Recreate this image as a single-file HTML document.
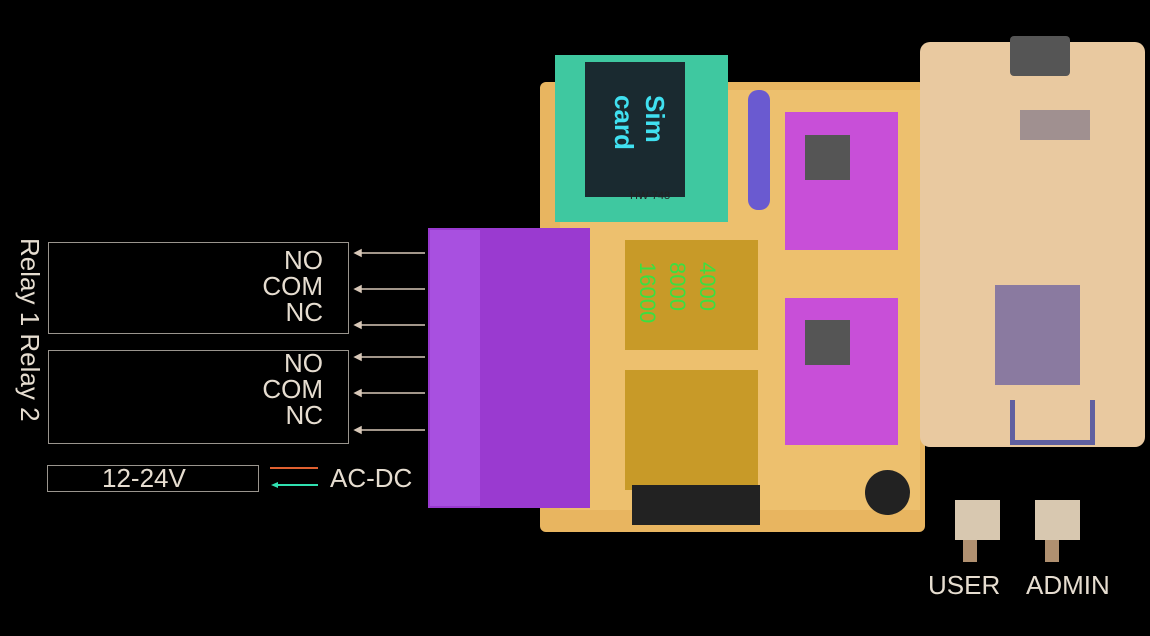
<!DOCTYPE html>
<html><head><style>
body{margin:0;width:1150px;height:636px;background:#000;position:relative;overflow:hidden;font-family:"Liberation Sans",sans-serif}
.a{position:absolute}
.t{position:absolute;color:#e6ddd0;font-size:26px;line-height:26px}
</style></head><body>
<!-- main board -->
<div class="a" style="left:540px;top:82px;width:385px;height:450px;background:#e8b560;border-radius:6px"></div>
<div class="a" style="left:560px;top:90px;width:360px;height:420px;background:#f0c878;opacity:.6"></div>
<!-- esp board -->
<div class="a" style="left:920px;top:42px;width:225px;height:405px;background:#e9c9a0;border-radius:10px"></div>
<div class="a" style="left:1010px;top:36px;width:60px;height:40px;background:#555;border-radius:4px"></div>
<div class="a" style="left:995px;top:285px;width:85px;height:100px;background:#8a7aa0"></div>
<div class="a" style="left:1010px;top:400px;width:75px;height:40px;border:5px solid #6060a0;border-top:none"></div>
<div class="a" style="left:1020px;top:110px;width:70px;height:30px;background:#a09090"></div>
<!-- sim module -->
<div class="a" style="left:555px;top:55px;width:173px;height:167px;background:#3fc8a0"></div>
<div class="a" style="left:585px;top:62px;width:100px;height:135px;background:#1a2a30"></div>
<div class="a" style="color:#40e0f0;font-size:26px;font-weight:bold;transform:rotate(90deg);transform-origin:left top;left:670px;top:95px;white-space:nowrap">Sim<br>card</div>
<div class="a" style="left:630px;top:190px;font-size:11px;color:#222">HW-748</div>
<!-- antenna -->
<div class="a" style="left:748px;top:90px;width:22px;height:120px;background:#6a5ad0;border-radius:10px"></div>
<!-- purple modules -->
<div class="a" style="left:785px;top:112px;width:113px;height:138px;background:#c84fd8"></div>
<div class="a" style="left:805px;top:135px;width:45px;height:45px;background:#555"></div>
<div class="a" style="left:785px;top:298px;width:113px;height:147px;background:#c84fd8"></div>
<div class="a" style="left:805px;top:320px;width:45px;height:45px;background:#555"></div>
<!-- relays -->
<div class="a" style="left:625px;top:240px;width:133px;height:110px;background:#c89a28"></div>
<div class="a" style="color:#3ae040;font-size:22px;transform:rotate(90deg);transform-origin:left top;left:722px;top:262px;line-height:30px">4000<br>8000<br>16000</div>
<div class="a" style="left:625px;top:370px;width:133px;height:120px;background:#c89a28"></div>
<div class="a" style="left:632px;top:485px;width:128px;height:40px;background:#222"></div>
<div class="a" style="left:865px;top:470px;width:45px;height:45px;background:#222;border-radius:50%"></div>
<!-- buttons -->
<div class="a" style="left:955px;top:500px;width:45px;height:40px;background:#d8c8b0"></div>
<div class="a" style="left:1035px;top:500px;width:45px;height:40px;background:#d8c8b0"></div>
<div class="a" style="left:963px;top:540px;width:14px;height:22px;background:#b09070"></div>
<div class="a" style="left:1045px;top:540px;width:14px;height:22px;background:#b09070"></div>
<!-- terminal -->
<div class="a" style="left:428px;top:228px;width:162px;height:280px;background:#9a3ad0"></div>
<div class="a" style="left:430px;top:230px;width:50px;height:276px;background:#a850e0"></div>
<!-- left boxes -->
<div class="a" style="left:48px;top:242px;width:299px;height:90px;border:1px solid #9a958e"></div>
<div class="a" style="left:48px;top:350px;width:299px;height:92px;border:1px solid #9a958e"></div>
<div class="a" style="left:47px;top:465px;width:210px;height:25px;border:1px solid #9a958e"></div>
<div class="t" style="left:102px;top:465px">12-24V</div>
<div class="t" style="right:827px;top:247px;text-align:right">NO<br>COM<br>NC</div>
<div class="t" style="right:827px;top:350px;text-align:right">NO<br>COM<br>NC</div>
<div class="t" style="top:238px;transform:rotate(90deg) translateY(-100%);transform-origin:left top;left:17px;white-space:nowrap">Relay 1 Relay 2</div>
<div class="t" style="left:330px;top:465px">AC-DC</div>
<div class="t" style="left:928px;top:572px">USER</div>
<div class="t" style="left:1026px;top:572px">ADMIN</div>
<svg class="a" style="left:0;top:0" width="1150" height="636">
<g stroke="#d8c8b8" stroke-width="1.5" fill="#d8c8b8">
<line x1="425" y1="253" x2="358" y2="253"/><path d="M355 253l6-3v6z"/>
<line x1="425" y1="289" x2="358" y2="289"/><path d="M355 289l6-3v6z"/>
<line x1="425" y1="325" x2="358" y2="325"/><path d="M355 325l6-3v6z"/>
<line x1="425" y1="357" x2="358" y2="357"/><path d="M355 357l6-3v6z"/>
<line x1="425" y1="393" x2="358" y2="393"/><path d="M355 393l6-3v6z"/>
<line x1="425" y1="430" x2="358" y2="430"/><path d="M355 430l6-3v6z"/>
</g>
<line x1="270" y1="468" x2="318" y2="468" stroke="#e06030" stroke-width="2"/>
<line x1="276" y1="485" x2="318" y2="485" stroke="#30e0b0" stroke-width="2"/><path d="M271 485l7-3v6z" fill="#30e0b0"/>
</svg>
</body></html>
